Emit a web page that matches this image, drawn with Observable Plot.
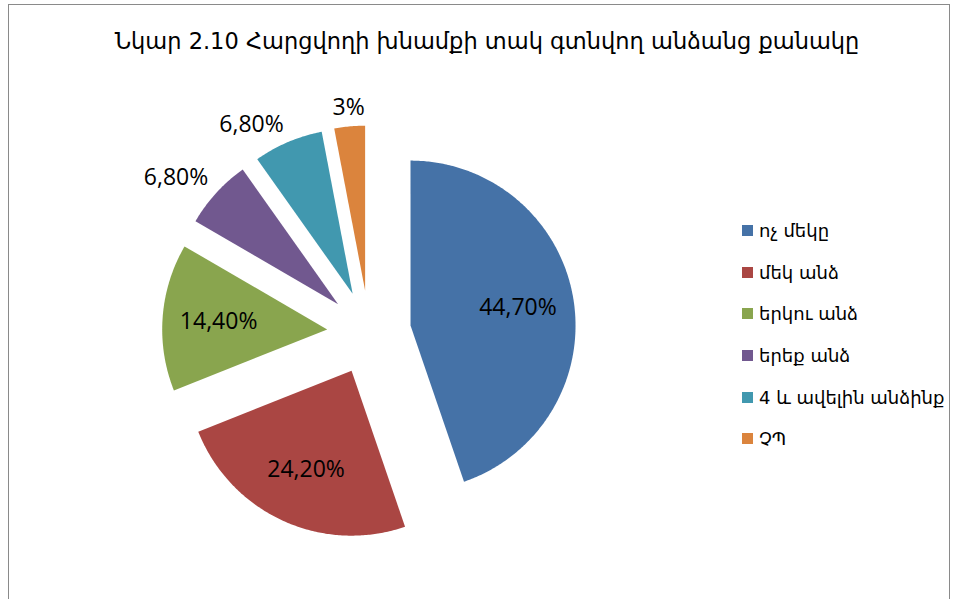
<!DOCTYPE html>
<html>
<head>
<meta charset="utf-8">
<script src="https://cdn.jsdelivr.net/npm/d3@7"></script>
<script src="https://cdn.jsdelivr.net/npm/@observablehq/plot@0.6"></script>
<style>
  html, body { margin: 0; padding: 0; background: #fff; }
  #wrap { position: relative; width: 958px; height: 599px; overflow: hidden; }
  #frame { position: absolute; left: 8px; top: 4px; width: 942px; height: 700px; border: 1.5px solid #8a8a8a; box-sizing: border-box; }
  #chart { position: absolute; left: 0; top: 0; }
  #title { position: absolute; left: 0; width: 974px; top: 28px; text-align: center; font-family: "DejaVu Sans", sans-serif; font-size: 22.5px; color: #000; white-space: nowrap; }
  #legend { position: absolute; left: 742px; top: 210px; }
  #legend .lg-swatches { margin: 0 !important; min-height: 0 !important; font-family: "DejaVu Sans", sans-serif !important; font-size: 18px !important; color: #000; }
  #legend .lg-swatch { display: flex !important; align-items: center !important; height: 41.6px; padding: 0 !important; margin: 0 !important; }
  #legend .lg-swatch svg { margin-right: 6px !important; }
</style>
</head>
<body>
<div id="wrap">
  <div id="frame"></div>
  <div id="chart"></div>
  <div id="title"></div>
  <div id="legend"></div>
</div>
<script>
// ---- data ----
const title = "Նկար 2.10 Հարցվողի խնամքի տակ գտնվող անձանց քանակը";
const categories = ["ոչ մեկը", "մեկ անձ", "երկու անձ", "երեք անձ", "4 և ավելին անձինք", "ՉՊ"];
const values = [44.7, 24.2, 14.4, 6.8, 6.8, 3];
const valueLabels = ["44,70%", "24,20%", "14,40%", "6,80%", "6,80%", "3%"];
const colors = ["#4572A7", "#AA4643", "#89A54E", "#71588F", "#4198AF", "#DB843D"];

// ---- layout (pixels) ----
const W = 958, H = 599;
const CX = 368.6, CY = 332, R = 165;   // pie centre and radius
const EXPLODE = 42 / R;                 // explosion, in radii
const INSIDE_R = 0.66;                  // inside label distance from slice vertex
const OUT_GAP = 11 / R;                 // outside label gap

const arcs = d3.pie().sort(null).value(d => d)(values);
const slices = arcs.map((a, i) => {
  const mid = (a.startAngle + a.endAngle) / 2;
  const ux = Math.sin(mid), uy = Math.cos(mid);
  return {i, cat: categories[i], label: valueLabels[i], a0: a.startAngle, a1: a.endAngle, mid, ux, uy,
          vx: EXPLODE * ux, vy: EXPLODE * uy, share: values[i] / d3.sum(values)};
});

// polygon outline of each exploded slice
const outline = [];
for (const s of slices) {
  outline.push({cat: s.cat, x: s.vx, y: s.vy});
  const n = Math.max(8, Math.ceil((s.a1 - s.a0) / 0.01));
  for (let k = 0; k <= n; k++) {
    const t = s.a0 + (s.a1 - s.a0) * k / n;
    outline.push({cat: s.cat, x: s.vx + Math.sin(t), y: s.vy + Math.cos(t)});
  }
}

const inside = slices.filter(s => s.share > 0.1).map(s => ({label: s.label, x: s.vx + INSIDE_R * s.ux, y: s.vy + INSIDE_R * s.uy}));
const outsideAll = slices.filter(s => s.share <= 0.1).map(s => ({label: s.label, ux: s.ux, uy: s.uy,
  x: s.vx + (1 + OUT_GAP) * s.ux, y: s.vy + (1 + OUT_GAP) * s.uy}));
const outMiddle = outsideAll.filter(d => Math.abs(d.ux) < 0.2);
const outEnd = outsideAll.filter(d => d.ux <= -0.2);
const outStart = outsideAll.filter(d => d.ux >= 0.2);

const labelFont = {fontFamily: "'Open Sans', Lato, sans-serif", fontSize: 23, fill: "#000"};

const chart = Plot.plot({
  width: W, height: H, margin: 0,
  x: {domain: [-CX / R, (W - CX) / R], axis: null},
  y: {domain: [-(H - CY) / R, CY / R], axis: null},
  color: {domain: categories, range: colors},
  style: {background: "transparent", overflow: "visible"},
  marks: [
    Plot.line(outline, {x: "x", y: "y", z: "cat", fill: "cat", stroke: null, curve: "linear-closed"}),
    Plot.text(inside, {x: "x", y: "y", text: "label", textAnchor: "middle", lineAnchor: "middle", ...labelFont}),
    Plot.text(outMiddle, {x: "x", y: "y", text: "label", textAnchor: "middle", lineAnchor: "bottom", ...labelFont}),
    Plot.text(outEnd, {x: "x", y: "y", text: "label", textAnchor: "end", lineAnchor: "bottom", ...labelFont}),
    Plot.text(outStart, {x: "x", y: "y", text: "label", textAnchor: "start", lineAnchor: "bottom", ...labelFont})
  ]
});
document.getElementById("chart").appendChild(chart);
document.getElementById("title").textContent = title;

const legend = Plot.legend({
  color: {type: "categorical", domain: categories, range: colors},
  legend: "swatches", columns: 1, swatchSize: 11, className: "lg"
});
document.getElementById("legend").appendChild(legend);
</script>
</body>
</html>
